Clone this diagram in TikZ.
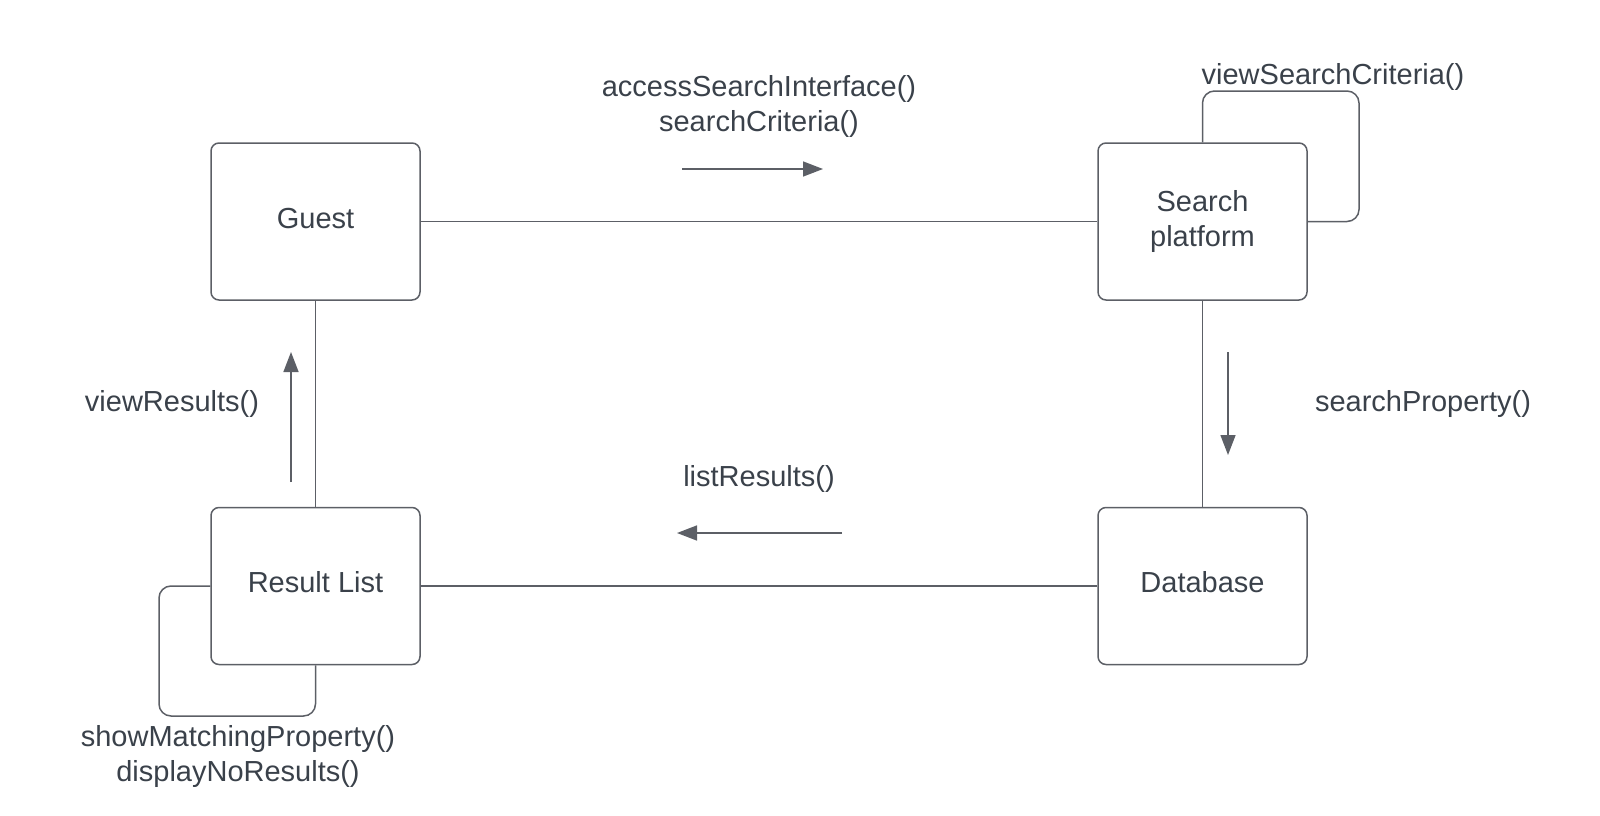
\documentclass[tikz,border=0pt]{standalone}
\usepackage{fontspec}
\setmainfont{Liberation Sans}
\usetikzlibrary{arrows.meta}
\definecolor{inkgray}{HTML}{3A414A}
\definecolor{wiregray}{HTML}{5C5F66}
\begin{document}
\begin{tikzpicture}[x=1pt, y=-1pt, font=\fontsize{29}{35}\selectfont, text=inkgray]
\tikzstyle{obj}   = [rectangle, rounded corners=8pt, minimum width=209pt, minimum height=157pt, text centered, align=center, draw=wiregray, line width=1.5pt]
\tikzstyle{oneline} = [text height=21pt, text depth=8pt]
\tikzstyle{link}  = [draw=wiregray, line width=1.5pt]
\tikzstyle{loop}  = [draw=wiregray, line width=1.5pt, rounded corners=12pt]
\tikzstyle{msg}   = [draw=wiregray, line width=1.5pt, -{Triangle[length=20pt, width=15pt]}]
\tikzstyle{lbl}   = [align=center, inner sep=0pt]

\useasboundingbox (0,0) rectangle (1600,816);

\node (guest)    [obj, oneline] at (315.5, 221.5)  {Guest};
\node (search)   [obj]          at (1202.5, 221.5) {Search\\platform};
\node (result)   [obj, oneline] at (315.5, 586)    {Result List};
\node (database) [obj, oneline] at (1202.5, 586)   {Database};

\draw [link] (guest)  -- (search);
\draw [link] (search) -- (database);
\draw [link] (database) -- (result);
\draw [link] (result) -- (guest);

% self messages
\coordinate (critloop) at (1359, 91);
\coordinate (showloop) at (159, 716);
\draw [loop] (search.north) |- (critloop) |- (search.east);
\draw [loop] (result.west) -| (showloop) -| (result.south);

% message arrows
\coordinate (m1s) at (682, 169);  \coordinate (m1e) at (823, 169);
\coordinate (m2s) at (1228, 352); \coordinate (m2e) at (1228, 455);
\coordinate (m3s) at (842, 533);  \coordinate (m3e) at (677, 533);
\coordinate (m4s) at (291, 482);  \coordinate (m4e) at (291, 352);
\draw [msg] (m1s) -- (m1e);
\draw [msg] (m2s) -- (m2e);
\draw [msg] (m3s) -- (m3e);
\draw [msg] (m4s) -- (m4e);

% labels
\node (accessLbl)   [lbl] at (759, 106.5)  {accessSearchInterface()\\searchCriteria()};
\node (criteriaLbl) [lbl] at (1333, 77)    {viewSearchCriteria()};
\node (propertyLbl) [lbl] at (1423, 404)   {searchProperty()};
\node (listLbl)     [lbl] at (759, 479)    {listResults()};
\node (viewLbl)     [lbl] at (172, 404)    {viewResults()};
\node (showLbl)     [lbl] at (238, 756.5)  {showMatchingProperty()\\displayNoResults()};
\end{tikzpicture}
\end{document}
